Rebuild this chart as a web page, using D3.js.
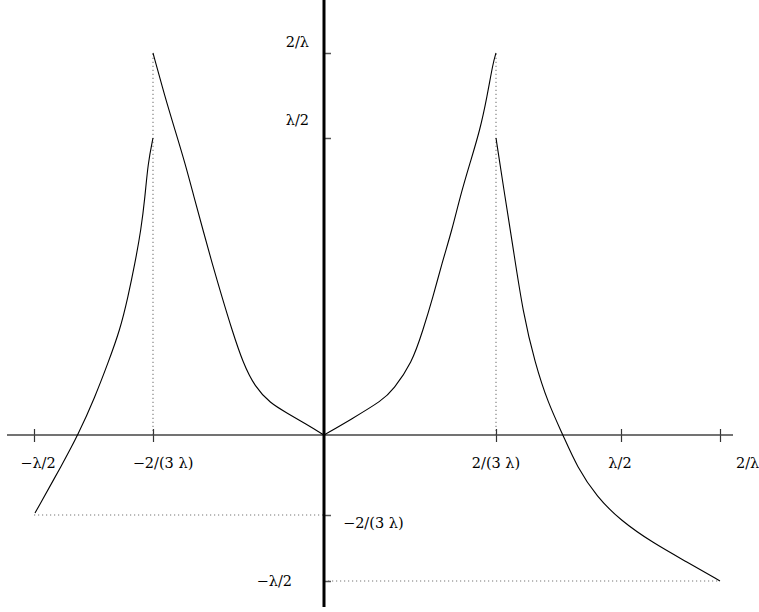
<!DOCTYPE html>
<html>
<head>
<meta charset="utf-8">
<script src="https://cdn.jsdelivr.net/npm/d3@7"></script>
<style>
  html, body { margin: 0; padding: 0; background: #fff; }
  svg { display: block; }
</style>
</head>
<body>
<svg id="chart" width="759" height="612"></svg>
<script>
// ---- data (abstract units) ----
const xTickValues = [-2.90, -1.71, 1.72, 2.97, 3.96];
const xTickLabels = ["\u2212\u03bb/2", "\u22122/(3 \u03bb)", "2/(3 \u03bb)", "\u03bb/2", "2/\u03bb"];
const yTickValues = [3.82, 2.97, -0.80, -1.46];
const yTickLabels = ["2/\u03bb", "\u03bb/2", "\u22122/(3 \u03bb)", "\u2212\u03bb/2"];

const leftOuterX = [-2.89, -2.61, -2.46, -2.29, -2.16, -2.04, -1.96, -1.89, -1.83, -1.79, -1.76, -1.71];
const leftOuterY = [-0.78, -0.28, 0.00, 0.38, 0.72, 1.05, 1.38, 1.72, 2.05, 2.38, 2.72, 2.97];
const leftInnerX = [-1.71, -1.59, -1.49, -1.39, -1.30, -1.21, -1.12, -1.02, -0.92, -0.81, -0.69, -0.54, -0.37, -0.18, 0.00];
const leftInnerY = [3.82, 3.38, 3.05, 2.72, 2.38, 2.05, 1.72, 1.38, 1.05, 0.72, 0.48, 0.32, 0.22, 0.11, 0.00];
const rightInnerX = [0.00, 0.26, 0.59, 0.69, 0.88, 0.99, 1.09, 1.18, 1.28, 1.36, 1.46, 1.56, 1.63, 1.69, 1.72];
const rightInnerY = [0.00, 0.15, 0.35, 0.45, 0.72, 1.05, 1.38, 1.72, 2.05, 2.38, 2.72, 3.05, 3.38, 3.72, 3.82];
const rightOuterX = [1.72, 1.81, 1.89, 1.99, 2.11, 2.24, 2.39, 2.53, 2.73, 2.96, 3.29, 3.63, 3.96];
const rightOuterY = [2.97, 2.38, 1.88, 1.22, 0.72, 0.32, 0.00, -0.32, -0.62, -0.85, -1.08, -1.27, -1.46];

// ---- scales ----
const W = 759, H = 612;
const x = d3.scaleLinear().domain([-3.24, 4.35]).range([0, W]);
const y = d3.scaleLinear().domain([-1.77, 4.35]).range([H, 0]);

const svg = d3.select("#chart");
const FONT = "DejaVu Serif";
const FSIZE = 14.5;

// dotted guide lines
const guides = svg.append("g").attr("stroke", "#777").attr("stroke-width", 1.1)
  .attr("stroke-dasharray", "1.2,2.8").attr("fill", "none");
guides.append("line").attr("x1", x(xTickValues[1])).attr("x2", x(xTickValues[1]))
  .attr("y1", y(0)).attr("y2", y(yTickValues[0]));
guides.append("line").attr("x1", x(xTickValues[2])).attr("x2", x(xTickValues[2]))
  .attr("y1", y(0)).attr("y2", y(yTickValues[0]));
guides.append("line").attr("x1", x(xTickValues[0])).attr("x2", x(0))
  .attr("y1", y(yTickValues[2])).attr("y2", y(yTickValues[2]));
guides.append("line").attr("x1", x(0)).attr("x2", x(xTickValues[4]))
  .attr("y1", y(yTickValues[3])).attr("y2", y(yTickValues[3]));

// x axis
const xAxis = d3.axisBottom(x).tickValues(xTickValues).tickFormat("").tickSize(7);
const gx = svg.append("g").attr("transform", `translate(0,${y(0)})`).call(xAxis);
gx.select(".domain").remove();
gx.selectAll(".tick line").attr("y1", -6).attr("stroke", "#333").attr("stroke-width", 1.2);
svg.append("line").attr("x1", x(-3.17)).attr("x2", x(4.09))
  .attr("y1", y(0)).attr("y2", y(0)).attr("stroke", "#444").attr("stroke-width", 1.3);

// x tick labels
const xLabelPos = [
  { dx: 4, anchor: "middle" },
  { dx: 10, anchor: "middle" },
  { dx: 0, anchor: "middle" },
  { dx: -1, anchor: "middle" },
  { dx: 16, anchor: "start" }
];
svg.append("g").selectAll("text").data(xTickValues).join("text")
  .attr("x", (d, i) => x(d) + xLabelPos[i].dx)
  .attr("y", y(0) + 28)
  .attr("dy", "0.35em")
  .attr("text-anchor", (d, i) => xLabelPos[i].anchor)
  .attr("font-family", FONT)
  .attr("font-size", FSIZE)
  .attr("fill", "#000")
  .text((d, i) => xTickLabels[i]);

// y axis
const yAxis = d3.axisLeft(y).tickValues(yTickValues).tickFormat("").tickSize(13);
const gy = svg.append("g").attr("transform", `translate(${x(0)},0)`).call(yAxis);
gy.select(".domain").remove();
gy.selectAll(".tick line").attr("x2", 7).attr("stroke", "#555").attr("stroke-width", 1.5);
svg.append("line").attr("x1", x(0)).attr("x2", x(0))
  .attr("y1", 0).attr("y2", y(-1.72)).attr("stroke", "#000").attr("stroke-width", 3);

// y tick labels
const yLabelPos = [
  { dx: -15, dy: -11, anchor: "end" },
  { dx: -15, dy: -18, anchor: "end" },
  { dx: 19, dy: 8, anchor: "start" },
  { dx: -32, dy: 0, anchor: "end" }
];
svg.append("g").selectAll("text").data(yTickValues).join("text")
  .attr("x", (d, i) => x(0) + yLabelPos[i].dx)
  .attr("y", (d, i) => y(d) + yLabelPos[i].dy)
  .attr("dy", "0.35em")
  .attr("text-anchor", (d, i) => yLabelPos[i].anchor)
  .attr("font-family", FONT)
  .attr("font-size", FSIZE)
  .attr("fill", "#000")
  .text((d, i) => yTickLabels[i]);

// curves
const line = d3.line().x(d => x(d[0])).y(d => y(d[1])).curve(d3.curveBasis);
const branches = [
  d3.zip(leftOuterX, leftOuterY),
  d3.zip(leftInnerX, leftInnerY),
  d3.zip(rightInnerX, rightInnerY),
  d3.zip(rightOuterX, rightOuterY)
];
svg.append("g").selectAll("path").data(branches).join("path")
  .attr("d", line)
  .attr("fill", "none")
  .attr("stroke", "#000")
  .attr("stroke-width", 1.1);
</script>
</body>
</html>
